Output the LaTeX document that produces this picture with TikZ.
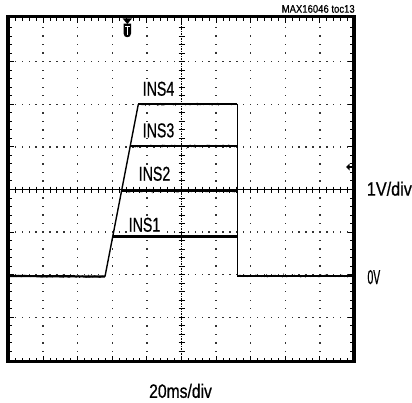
\documentclass[tikz,border=0pt]{standalone}
\usepackage{fontspec}
\setmainfont{Liberation Sans}
\newfontfamily\labelfont{Liberation Sans}[FakeBold=0.7]
\usetikzlibrary{decorations.pathmorphing}
\newcommand\fitlabel[3]{\resizebox{#1}{#2}{#3}}
\tikzset{
  framebox/.style={line width=3.2pt, draw=black},
  griddot/.style={fill=black!80},
  tickmark/.style={line width=1pt, draw=black},
  centerline/.style={line width=0.7pt, draw=black},
  tracecore/.style={line width=2.2pt, draw=black},
  tracenoise/.style={line width=0.9pt, draw=black, decorate, decoration={random steps, segment length=1.2pt, amplitude=0.9pt}},
  edgeline/.style={line width=1.4pt, draw=black},
  lbl/.style={inner sep=0pt, anchor=base west, font=\labelfont},
  tracelbl/.style={lbl, fill=white, inner sep=0.8pt}
}
\begin{document}
\begin{tikzpicture}[x=1pt,y=-1pt]
\useasboundingbox (0,0) rectangle (412,402);
\fill[white] (0,0) rectangle (412,402);
% grid dots on vertical lines
\foreach \k in {1,2,3,4,6,7,8,9}{
  \foreach \j in {1,...,39}{
    \fill[griddot] (8.5+34.6*\k-0.7, 19.1+8.52*\j-0.7) rectangle ++(1.4,1.4);
  }
}
% grid dots on horizontal lines
\foreach \k in {1,2,3,5,6,7}{
  \foreach \j in {1,...,49}{
    \fill[griddot] (8.5+6.92*\j-0.7, 19.1+42.6*\k-0.7) rectangle ++(1.4,1.4);
  }
}
% frame ticks (minor)
\foreach \j in {1,...,49}{
  \draw[tickmark] (8.5+6.92*\j, 18.4) -- ++(0,2.2);
  \draw[tickmark] (8.5+6.92*\j, 360.2) -- ++(0,-2.2);
}
\foreach \j in {1,...,39}{
  \draw[tickmark] (9.6, 19.1+8.52*\j) -- ++(2.2,0);
  \draw[tickmark] (352.4, 19.1+8.52*\j) -- ++(-2.2,0);
}
% frame ticks (major)
\foreach \k in {1,...,9}{
  \draw[tickmark] (8.5+34.6*\k, 18.4) -- ++(0,4.5);
  \draw[tickmark] (8.5+34.6*\k, 360.2) -- ++(0,-4.5);
}
\foreach \k in {1,...,7}{
  \draw[tickmark] (9.6, 19.1+42.6*\k) -- ++(4.5,0);
  \draw[tickmark] (352.4, 19.1+42.6*\k) -- ++(-4.5,0);
}
% centre crosshair
\draw[centerline, dash pattern=on 1.5pt off 1pt] (181.5,18.4) -- (181.5,360.2);
\draw[centerline] (9.6,189.5) -- (352.4,189.5);
\foreach \j in {1,...,39}{
  \draw[tickmark] (178.5, 19.1+8.52*\j) -- ++(6,0);
}
\foreach \j in {1,...,49}{
  \draw[tickmark] (8.5+6.92*\j, 186.5) -- ++(0,6);
}
% frame
\draw[framebox] (8,16.8) rectangle (354,361.8);
% labels of the traces (white boxes cover the grid)
\node[tracelbl] (ins4) at (141.7,95.7) {\fitlabel{31.6pt}{14pt}{INS4}};
\node[tracelbl] (ins3) at (141.7,137.3) {\fitlabel{31.6pt}{14pt}{INS3}};
\node[tracelbl] (ins2) at (137.7,180.7) {\fitlabel{31.6pt}{14pt}{INS2}};
\node[tracelbl] (ins1) at (127.7,231.7) {\fitlabel{31.6pt}{14pt}{INS1}};
% traces
\foreach \ya/\yb/\xa/\xb in {276/276.5/8.5/105, 276/276/237.3/352.4, 104.3/104.3/138.3/237.3, 146/146/130/237.3, 191/191/121.5/237.3, 236.5/236.5/112.7/237.3}{
  \draw[tracecore] (\xa,\ya) -- (\xb,\yb);
  \draw[tracenoise] (\xa,\ya) -- (\xb,\yb);
}
\draw[edgeline] (105,276.5) -- (138.3,104.3);
\draw[edgeline] (237.3,104.3) -- (237.3,276);
% trigger marker
\fill[black] (122.6,18.4) -- (132,18.4) -- (127.3,24) -- cycle;
\fill[black] (123.6,23.5) -- (131,23.5) -- (131,33.5) .. controls (131,36.2) and (129.2,37.2) .. (127.3,37.2) .. controls (125.4,37.2) and (123.6,36.2) .. (123.6,33.5) -- cycle;
\draw[white, line width=1.2pt] (125.1,26.4) -- (129.5,26.4);
\draw[white, line width=1.2pt] (127.3,26.4) -- (127.3,34.6);
% right marker
\fill[black] (346,167) -- (349.6,163.4) -- (349.6,170.6) -- cycle;
\draw[black, line width=1.5pt] (349,167) -- (352.4,167);
% outside labels
\node[lbl] (vdiv) at (366.7,195.6) {\fitlabel{45pt}{14pt}{1V/div}};
\node[lbl] (zero) at (367.3,284) {\fitlabel{12.7pt}{14pt}{0V}};
\node[lbl] (tdiv) at (149,397.8) {\fitlabel{62.7pt}{14pt}{20ms/div}};
\node[lbl] (title) at (281.5,12.7) {\fitlabel{73pt}{7.7pt}{MAX16046 toc13}};
\end{tikzpicture}
\end{document}
